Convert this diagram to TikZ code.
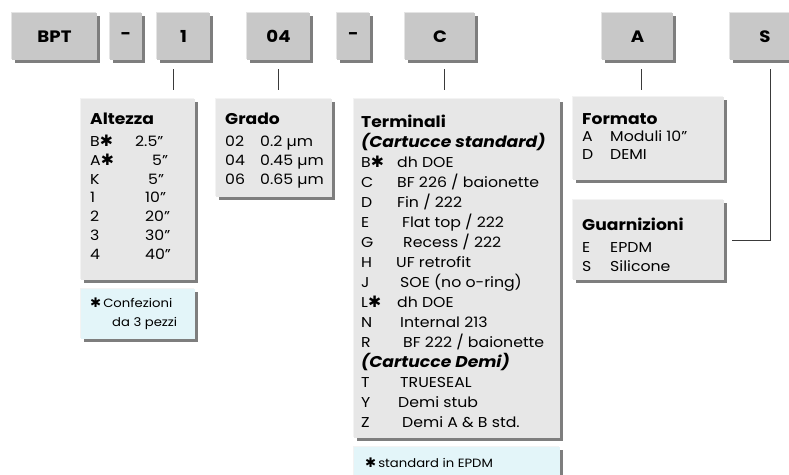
\documentclass[tikz,border=0pt]{standalone}
\usepackage{fontspec}
\setmainfont{Poppins}[FakeStretch=1.1]
\newfontfamily\symf{DejaVu Sans}
\usetikzlibrary{shadows}
\definecolor{topface}{HTML}{C8C8C8}
\definecolor{tophl}{HTML}{E4E4E4}
\definecolor{lowface}{HTML}{E7E7E7}
\definecolor{lowhl}{HTML}{F3F3F3}
\definecolor{noteface}{HTML}{E3F5F9}
\definecolor{shadowc}{HTML}{7E7E7E}
\definecolor{linec}{HTML}{3A3A3A}
\newcommand\st{{\symf\bfseries\scalebox{1.1}{✱}}}
\newcommand\rw[3]{\makebox[#2pt][l]{#1}#3}
\newcommand\ttl[1]{{\fontsize{15.6}{15.6}\selectfont\bfseries #1}}
\tikzset{
  topbox/.style={fill=topface, inner sep=0pt,
    general shadow={shadow xshift=-1.5pt, shadow yshift=1.5pt, fill=tophl},
    general shadow={shadow xshift=3pt, shadow yshift=-3pt, fill=shadowc},
    font=\fontsize{16.5}{16.5}\selectfont\bfseries, minimum height=47pt},
  lowbox/.style={fill=lowface, inner sep=0pt,
    general shadow={shadow xshift=-1.5pt, shadow yshift=1.5pt, fill=lowhl},
    general shadow={shadow xshift=3pt, shadow yshift=-3pt, fill=shadowc}},
  notebox/.style={lowbox, fill=noteface},
  txt/.style={inner sep=0pt, anchor=base west, font=\fontsize{14.3}{#1}\selectfont},
  conn/.style={draw=linec, line width=0.8pt},
}
\begin{document}
\begin{tikzpicture}[x=1pt,y=-1pt]
\useasboundingbox (0,0) rectangle (789,474);
\clip (0,0) rectangle (789,474);
% top code boxes
\node[topbox, minimum width=85pt] (bBPT) at (54.5,36.5) {BPT};
\node[topbox, minimum width=32pt] (bD1) at (126,36.5) {-};
\node[topbox, minimum width=53pt] (b1) at (183.5,36.5) {1};
\node[topbox, minimum width=63pt] (b04) at (278.5,36.5) {04};
\node[topbox, minimum width=33pt] (bD2) at (353.5,36.5) {-};
\node[topbox, minimum width=70pt] (bC) at (440,36.5) {C};
\node[topbox, minimum width=71pt] (bA) at (637.5,36.5) {A};
\node[topbox, minimum width=70pt] (bS) at (765,36.5) {S};
% lower boxes
\node[lowbox, minimum width=114pt, minimum height=181pt] (alt) at (138,189.5) {};
\node[notebox, minimum width=114pt, minimum height=50pt] (conf) at (138,314) {};
\node[lowbox, minimum width=116pt, minimum height=98pt] (grado) at (274,148) {};
\node[lowbox, minimum width=206pt, minimum height=339pt] (term) at (457,268.5) {};
\node[notebox, minimum width=206pt, minimum height=43pt] (epdm) at (457,468.5) {};
\node[lowbox, minimum width=151pt, minimum height=83pt] (form) at (648.5,138.5) {};
\node[lowbox, minimum width=151pt, minimum height=80pt] (guar) at (648.5,240) {};
% connectors
\coordinate (x1) at (173,0);
\coordinate (x2) at (278,0);
\coordinate (x3) at (444,0);
\coordinate (x4) at (641,0);
\coordinate (x5) at (770,0);
\draw[conn, shorten <=9pt, shorten >=9pt] (b1.south -| x1) -- (alt.north -| x1);
\draw[conn, shorten <=9pt, shorten >=9pt] (b04.south -| x2) -- (grado.north -| x2);
\draw[conn, shorten <=9pt, shorten >=9pt] (bC.south -| x3) -- (term.north -| x3);
\draw[conn, shorten <=9pt, shorten >=7pt] (bA.south -| x4) -- (form.north -| x4);
\draw[conn, shorten <=9pt, shorten >=8pt] (bS.south -| x5) |- (guar.east);
% texts
\node[txt=18.75] (altT) at (90,124.5) {\begin{tabular}[t]{@{}l@{}}\ttl{Altezza}\\[3.25pt]
\rw{B\st}{45}{2.5"}\\
\rw{A\st}{62}{5"}\\
\rw{K}{58}{5"}\\
\rw{1}{55}{10"}\\
\rw{2}{55}{20"}\\
\rw{3}{55}{30"}\\
\rw{4}{55}{40"}\end{tabular}};
\node[txt=19] (gradoT) at (225,124.5) {\begin{tabular}[t]{@{}l@{}}\ttl{Grado}\\[3pt]
\rw{02}{35}{0.2 µm}\\
\rw{04}{35}{0.45 µm}\\
\rw{06}{35}{0.65 µm}\end{tabular}};
\node[txt=20] (termT) at (361,127.5) {\begin{tabular}[t]{@{}l@{}}\ttl{Terminali}\\
\ttl{\itshape (Cartucce standard)}\\
\rw{B\st}{36}{dh DOE}\\
\rw{C}{36}{BF 226 / baionette}\\
\rw{D}{36}{Fin / 222}\\
\rw{E}{41}{Flat top / 222}\\
\rw{G}{42}{Recess / 222}\\
\rw{H}{35}{UF retrofit}\\
\rw{J}{39}{SOE (no o-ring)}\\
\rw{L\st}{36}{dh DOE}\\
\rw{N}{39}{Internal 213}\\
\rw{R}{42}{BF 222 / baionette}\\
\ttl{\itshape (Cartucce Demi)}\\
\rw{T}{39}{TRUESEAL}\\
\rw{Y}{37}{Demi stub}\\
\rw{Z}{41}{Demi A \& B std.}\end{tabular}};
\node[txt=18] (formT) at (582,124.5) {\begin{tabular}[t]{@{}l@{}}\ttl{Formato}\\[-1pt]
\rw{A}{28}{Moduli 10"}\\
\rw{D}{28}{DEMI}\end{tabular}};
\node[txt=19] (guarT) at (582,230) {\begin{tabular}[t]{@{}l@{}}\ttl{Guarnizioni}\\[3pt]
\rw{E}{28}{EPDM}\\
\rw{S}{28}{Silicone}\end{tabular}};
\node[inner sep=0pt, anchor=base west, font=\fontsize{12}{19}\selectfont] (confT) at (90,307) {\begin{tabular}[t]{@{}l@{}}\st\,Confezioni\\
\hspace{22pt}da 3 pezzi\end{tabular}};
\node[inner sep=0pt, anchor=base west, font=\fontsize{12}{19}\selectfont] (epdmT) at (365,467) {\st\,standard in EPDM};
\end{tikzpicture}
\end{document}
